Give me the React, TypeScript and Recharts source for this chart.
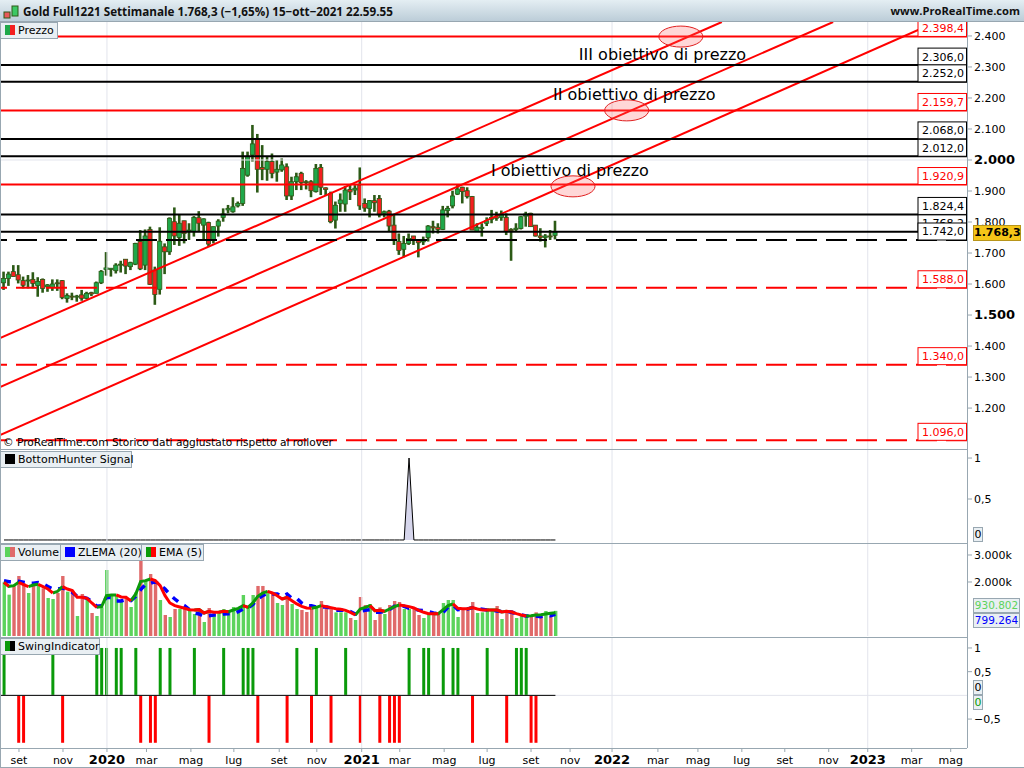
import React from 'react'
import { ComposedChart, Bar, Line, Area, XAxis, YAxis, Cell, ReferenceLine, ReferenceDot } from 'recharts'

// week index, 0 = first candle of the series (aug 2019)
const highs = [1640,1640,1661,1661,1624,1629,1638,1622,1618,1600,1615,1615,1613,1570,1572,1565,1581,1575,1575,1608,1645,1703,1651,1667,1675,1680,1672,1733,1774,1776,1785,1656,1783,1731,1815,1847,1823,1804,1796,1819,1835,1812,1801,1785,1809,1844,1855,1880,1866,2027,2027,2113,2084,2048,2011,2021,2000,2005,1989,1946,1959,1962,1935,1935,1987,1987,1912,1898,1866,1892,1916,1919,1919,1976,1876,1871,1887,1887,1837,1839,1823,1763,1755,1763,1755,1742,1753,1790,1804,1796,1852,1852,1901,1919,1914,1912,1884,1796,1796,1815,1839,1833,1837,1828,1780,1796,1819,1833,1830,1790,1780,1761,1774,1804]
const lows = [1581,1594,1624,1602,1586,1586,1586,1559,1572,1575,1578,1578,1551,1540,1548,1543,1546,1551,1561,1570,1600,1627,1624,1634,1637,1632,1645,1661,1645,1645,1597,1533,1566,1632,1694,1726,1723,1731,1742,1753,1769,1740,1720,1731,1753,1801,1828,1830,1847,1852,1946,1995,1895,1935,1933,1941,1930,1962,1871,1871,1903,1903,1905,1880,1895,1887,1884,1796,1779,1833,1833,1871,1887,1839,1833,1815,1833,1815,1815,1769,1726,1694,1686,1726,1726,1686,1726,1737,1763,1763,1774,1815,1844,1887,1860,1876,1774,1769,1753,1787,1796,1804,1804,1758,1675,1769,1776,1785,1785,1753,1737,1718,1742,1744]
const opens = [1604,1618,1640,1630,1611,1610,1615,1595,1615,1591,1589,1604,1611,1553,1561,1559,1565,1554,1572,1570,1604,1647,1647,1643,1661,1680,1656,1664,1737,1661,1776,1645,1583,1720,1704,1801,1750,1804,1771,1769,1814,1790,1798,1742,1787,1815,1839,1833,1852,1860,1951,2016,2067,1976,1970,1995,1961,1968,1978,1884,1930,1957,1930,1930,1898,1976,1910,1892,1806,1860,1858,1905,1903,1919,1860,1844,1869,1876,1828,1835,1790,1737,1712,1731,1755,1740,1736,1750,1785,1783,1776,1837,1852,1890,1912,1901,1882,1770,1779,1796,1809,1817,1815,1815,1776,1776,1779,1819,1828,1790,1755,1750,1755,1757]
const closes = [1618,1632,1624,1613,1596,1613,1602,1608,1586,1597,1600,1602,1557,1563,1558,1561,1554,1570,1568,1604,1641,1652,1651,1661,1664,1658,1669,1731,1649,1755,1599,1566,1738,1704,1812,1755,1796,1763,1774,1815,1796,1810,1729,1785,1803,1826,1844,1849,1860,1973,2011,2052,1970,1970,1995,1957,1970,1984,1884,1930,1946,1927,1927,1901,1973,1912,1905,1801,1854,1871,1903,1897,1909,1852,1845,1869,1862,1823,1833,1787,1744,1708,1731,1747,1742,1733,1744,1787,1781,1776,1839,1844,1884,1906,1898,1882,1774,1783,1783,1804,1815,1812,1823,1769,1772,1780,1817,1826,1785,1755,1750,1755,1753,1768]

const volumes = [1988,1531,1865,2223,1964,1593,1865,1865,1766,1408,1371,1593,2223,1643,1680,741,1556,1371,852,741,1062,2445,1494,1494,1272,1433,1074,1618,2816,2050,2297,1927,1334,778,704,1000,1000,1062,939,815,939,519,1037,815,852,1000,939,1074,1000,1519,1062,1519,1853,1853,1680,1618,1223,1149,1500,1186,1000,963,889,1000,1062,1297,1124,1062,877,877,877,667,593,1445,1149,1186,593,1062,815,1149,1297,1260,1000,1000,1025,778,667,815,815,815,1223,1334,1334,704,1000,1000,1260,852,877,1025,939,1112,630,852,963,667,753,753,778,877,778,926,729,931]
const ema5 = [1988,1840,1865,1988,1902,1828,1890,1914,1828,1741,1593,1655,1828,1741,1680,1433,1433,1396,1223,1062,1087,1494,1519,1519,1445,1433,1297,1556,2013,2050,2112,2050,1865,1494,1223,1124,1074,1025,976,963,976,852,914,877,877,914,902,963,1025,1124,1062,1223,1470,1593,1655,1593,1494,1371,1433,1309,1186,1099,1037,1025,1062,1124,1087,1050,1013,988,951,877,778,1000,1062,1124,939,951,914,1000,1087,1149,1124,1087,1037,951,877,827,827,827,976,1124,1186,1025,1013,1013,1050,1000,963,963,963,963,889,914,889,827,778,741,753,778,790,815,840,864]
const zlema20 = [2050,2013,2013,2025,1988,1951,1951,1976,1927,1828,1741,1741,1778,1717,1618,1470,1445,1396,1284,1099,1124,1433,1420,1297,1297,1346,1309,1470,1717,1902,1951,2013,1890,1741,1531,1371,1223,1124,976,852,815,729,753,778,778,815,827,827,902,1000,1037,1173,1371,1494,1581,1556,1556,1470,1556,1396,1396,1223,1124,1124,1074,1074,1074,1037,951,951,963,902,815,914,951,976,877,877,914,976,1099,1112,1099,1025,1013,951,939,902,852,827,877,1074,1149,976,988,1000,1050,1013,988,963,951,926,902,914,877,827,778,741,741,741,716,753,753,799]

const bottomHunterWeeks = [83]
const swingUpWeeks = [0,10,19,20,21,23,24,27,32,34,39,45,49,50,51,60,64,70,83,86,87,90,92,93,99,105,106,107]
const swingDownWeeks = [3,4,12,28,30,31,42,52,58,63,67,73,77,79,80,81,96,103,108,109]

const priceTicks = [1200,1300,1400,1500,1600,1700,1800,1900,2000,2100,2200,2300,2400]
const boldPrices = [1500,2000]
const timeTicks = [3.07,12.09,21.1,29.2,38.3,47.1,56.4,64.1,73.3,81.1,90.2,99,108,116,124.6,134,142.2,151.2,160,169,177,186,194]
const timeLabels = ['set','nov','2020','mar','mag','lug','set','nov','2021','mar','mag','lug','set','nov','2022','mar','mag','lug','set','nov','2023','mar','mag']
const yearWeeks = [21.1,73.3,124.6,177]

const redLevels = [2398.4,2159.7,1920.9]
const blackLevels = [2306,2252,2068,2012,1824.4,1768.2]
const blackDashed = [1742]
const redDashed = [1588,1340,1096]

// channel lines, [week, price] at both ends
const channels = [
  [[-0.82,1426],[147.1,2445]],
  [[-0.82,1268],[169.9,2445]],
  [[-0.82,1113],[191,2445]],
]
const targets = [
  { week: 138.7, price: 2398, text: 'III obiettivo di prezzo', textWeek: 117.8, textPrice: 2323 },
  { week: 127.6, price: 2160, text: 'II obiettivo di prezzo', textWeek: 112.5, textPrice: 2194 },
  { week: 116.6, price: 1915, text: 'I obiettivo di prezzo', textWeek: 99.8, textPrice: 1948 },
]

const FONT = '"DejaVu Sans", sans-serif'
const TITLE_FONT = '"Open Sans", sans-serif'
const UP = '#1fa84a'
const DOWN = '#f41f1f'
const WICK = '#2c5a16'
const AXIS = '#98a7b1'
const GRID = '#e2e4ec'
const X_DOMAIN = [-0.82, 197.34]
const LAST_WEEK = opens.length - 1

const rows = opens.map((open, week) => {
  const rising = (arr: number[]) => arr[week] >= (arr[week - 1] ?? arr[week]) || (arr[week + 1] ?? 0) > arr[week]
  return {
    week,
    open,
    close: closes[week],
    high: highs[week],
    low: lows[week],
    range: [lows[week], highs[week]],
    volume: volumes[week],
    emaUp: rising(ema5) ? ema5[week] : null,
    emaDown: ema5[week] <= (ema5[week - 1] ?? ema5[week]) || (ema5[week + 1] ?? 0) < ema5[week] ? ema5[week] : null,
    zlema: zlema20[week],
    hunter: bottomHunterWeeks.includes(week) ? 1 : 0,
    swing: swingUpWeeks.includes(week) ? 1 : swingDownWeeks.includes(week) ? -1 : 0,
  }
})

const Candle = (props: any) => {
  const { x, y, width, height, payload } = props
  const perUnit = height / (payload.high - payload.low)
  const top = y + (payload.high - Math.max(payload.open, payload.close)) * perUnit
  const bodyH = Math.max(Math.abs(payload.open - payload.close) * perUnit, 1)
  const mid = x + width / 2
  return (
    <g>
      <rect x={mid - 1.3} y={y} width={2.6} height={height} fill={WICK} />
      <rect x={mid - 2.1} y={top} width={4.2} height={bodyH} fill={payload.close >= payload.open ? UP : DOWN} stroke={WICK} strokeWidth={0.8} />
    </g>
  )
}

const priceLabel = (value: number) => {
  const [whole, dec] = value.toFixed(1).split('.')
  return `${whole[0]}.${whole.slice(1)},${dec}`
}

// little boxed value sitting on top of its level line, right side of the plot
const levelTag = (value: number, color: string) => (props: any) => {
  const { viewBox } = props
  const right = viewBox.x + viewBox.width
  return (
    <g>
      <rect x={right - 49} y={viewBox.y - 17} width={48.5} height={17} fill="#fff" stroke={color} strokeWidth={1} />
      <text x={right - 45} y={viewBox.y - 4.5} fontSize={11} fontFamily={FONT} fill={color}>{priceLabel(value)}</text>
    </g>
  )
}

const PriceTick = (props: any) => {
  const { x, y, payload } = props
  const v = payload.value
  const bold = boldPrices.includes(v)
  return (
    <text x={x} y={y + 4} fontSize={bold ? 13 : 11} fontWeight={bold ? 700 : 400} fontFamily={FONT} fill="#000">
      {`${String(v)[0]}.${String(v).slice(1)}`}
    </text>
  )
}

const PlainTick = (props: any) => {
  const { x, y, payload, format } = props
  return <text x={x} y={y + 4} fontSize={11} fontFamily={FONT} fill="#000">{format(payload.value)}</text>
}

const TimeTick = (props: any) => {
  const { x, y, index } = props
  const label = timeLabels[index]
  const year = label.startsWith('20')
  return (
    <text x={x} y={y + 10} textAnchor="middle" fontSize={year ? 13 : 11} fontWeight={year ? 700 : 400} fontFamily={FONT} fill="#000">
      {label}
    </text>
  )
}

const yearLines = () =>
  yearWeeks.map((w) => <ReferenceLine key={`y${w}`} x={w} stroke={GRID} strokeWidth={1} />)

const Panel = ({ top, height, children }: { top: number; height: number; children: React.ReactNode }) => (
  <div style={{ position: 'absolute', left: 0, top, width: 1024, height }}>
    <ComposedChart width={1024} height={height} data={rows} margin={{ top: 0, right: 0, bottom: 0, left: 0 }}>
      {children}
    </ComposedChart>
  </div>
)

const Tag = ({ left, top, width, height = 17, children, style }: any) => (
  <div
    style={{
      position: 'absolute', left, top, width, height, boxSizing: 'border-box',
      border: `1px solid ${AXIS}`, background: '#e9eff3', fontFamily: FONT, fontSize: 11,
      lineHeight: `${height - 2}px`, color: '#000', whiteSpace: 'nowrap', ...style,
    }}
  >
    {children}
  </div>
)

const Swatch = ({ a, b }: { a: string; b: string }) => (
  <span style={{ display: 'inline-block', width: 10, height: 10, margin: '0 3px 0 4px', verticalAlign: -1, background: `linear-gradient(90deg, ${a} 50%, ${b} 50%)` }} />
)

const Rule = ({ left, top, width, height }: any) => (
  <div style={{ position: 'absolute', left, top, width, height, background: AXIS }} />
)

export default function App() {
  return (
    <div style={{ position: 'fixed', left: 0, top: 0, width: 1024, height: 768, background: '#fff', overflow: 'hidden' }}>
      {/* barra titolo */}
      <div style={{ position: 'absolute', left: 0, top: 0, width: 1024, height: 22, boxSizing: 'border-box', borderBottom: `1px solid ${AXIS}`, background: 'linear-gradient(#e4eef3, #bccdd8)', fontFamily: TITLE_FONT, fontSize: 11.7, fontWeight: 700, lineHeight: '22px', color: '#111', whiteSpace: 'nowrap' }}>
        <svg width={18} height={20} style={{ position: 'absolute', left: 2, top: 1 }}>
          <rect x={2} y={11} width={6} height={6} fill="#e85a5a" stroke={WICK} />
          <rect x={10} y={5} width={6} height={10} fill="#3cc864" stroke={WICK} />
        </svg>
        <span style={{ position: 'absolute', left: 23 }}>Gold Full1221 Settimanale 1.768,3 (−1,65%) 15−ott−2021 22.59.55</span>
        <span style={{ position: 'absolute', right: 4, fontSize: 11.2 }}>www.ProRealTime.com</span>
      </div>

      <Panel top={22} height={427}>
        <XAxis dataKey="week" type="number" domain={X_DOMAIN} hide allowDataOverflow />
        <YAxis orientation="right" width={57} domain={[1068, 2445]} ticks={priceTicks} tick={PriceTick} tickSize={5} tickMargin={2} interval={0} axisLine={false} tickLine={{ stroke: AXIS }} allowDataOverflow />
        {yearLines()}
        <ReferenceLine y={2000} stroke={GRID} />
        <Bar dataKey="range" barSize={4} shape={Candle} isAnimationActive={false} />
        {channels.map((c, i) => (
          <ReferenceLine key={`c${i}`} segment={[{ x: c[0][0], y: c[0][1] }, { x: c[1][0], y: c[1][1] }]} stroke="#ff0000" strokeWidth={2} />
        ))}
        {blackLevels.map((v) => <ReferenceLine key={v} y={v} stroke="#000" strokeWidth={2} label={levelTag(v, '#000')} />)}
        {blackDashed.map((v) => <ReferenceLine key={v} y={v} stroke="#000" strokeWidth={2} strokeDasharray="21 9" label={levelTag(v, '#000')} />)}
        {redLevels.map((v) => <ReferenceLine key={v} y={v} stroke="#ff0000" strokeWidth={2} label={levelTag(v, '#ff0000')} />)}
        {redDashed.map((v) => <ReferenceLine key={v} y={v} stroke="#ff0000" strokeWidth={2} strokeDasharray="21 9" label={levelTag(v, '#ff0000')} />)}
        {targets.map((t) => (
          <ReferenceDot key={t.text} x={t.week} y={t.price} r={1} shape={(p: any) => (
            <ellipse cx={p.cx} cy={p.cy} rx={22} ry={10.5} fill="#ff6060" fillOpacity={0.25} stroke="#e02020" strokeWidth={1} />
          )} />
        ))}
        {targets.map((t) => (
          <ReferenceDot key={`t${t.text}`} x={t.textWeek} y={t.textPrice} r={1} shape={(p: any) => (
            <text x={p.cx} y={p.cy} fontSize={16} fontFamily={FONT} fill="#000">{t.text}</text>
          )} />
        ))}
      </Panel>

      <Panel top={450} height={94}>
        <XAxis dataKey="week" type="number" domain={X_DOMAIN} hide allowDataOverflow />
        <YAxis orientation="right" width={57} domain={[-0.049, 1.098]} ticks={[0.5, 1]} tick={<PlainTick format={(v: number) => String(v).replace('.', ',')} />} tickSize={5} tickMargin={2} interval={0} axisLine={false} tickLine={{ stroke: AXIS }} allowDataOverflow />
        {yearLines()}
        <Area dataKey="hunter" type="linear" stroke="#000" strokeWidth={1} fill="#d6d6ec" fillOpacity={1} dot={false} isAnimationActive={false} />
      </Panel>

      <Panel top={544} height={92}>
        <XAxis dataKey="week" type="number" domain={X_DOMAIN} hide allowDataOverflow />
        <YAxis orientation="right" width={57} domain={[0, 3407]} ticks={[2000, 3000]} tick={<PlainTick format={(v: number) => `${v / 1000}.000k`} />} tickSize={5} tickMargin={2} interval={0} axisLine={false} tickLine={{ stroke: AXIS }} allowDataOverflow />
        {yearLines()}
        <Bar dataKey="volume" barSize={3.4} isAnimationActive={false}>
          {rows.map((r) => <Cell key={r.week} fill={r.close >= r.open ? '#5cd35c' : '#e06a6a'} />)}
        </Bar>
        <Line dataKey="zlema" stroke="#0000ff" strokeWidth={3.5} strokeDasharray="7 7" dot={false} isAnimationActive={false} />
        <Line dataKey="emaUp" stroke="#0a9a0a" strokeWidth={3} dot={false} isAnimationActive={false} />
        <Line dataKey="emaDown" stroke="#ff0000" strokeWidth={3} dot={false} isAnimationActive={false} />
      </Panel>

      <Panel top={638} height={130}>
        <XAxis dataKey="week" type="number" domain={X_DOMAIN} ticks={timeTicks} interval={0} height={20} tick={TimeTick} tickSize={4} axisLine={false} tickLine={{ stroke: AXIS }} allowDataOverflow />
        <YAxis orientation="right" width={57} domain={[-1.11, 1.21]} ticks={[-0.5, 0.5, 1]} tick={<PlainTick format={(v: number) => String(v).replace('.', ',').replace('-', '−')} />} tickSize={5} tickMargin={2} interval={0} axisLine={false} tickLine={{ stroke: AXIS }} allowDataOverflow />
        {yearLines()}
        <ReferenceLine y={0} stroke={GRID} />
        <Bar dataKey="swing" barSize={3} isAnimationActive={false}>
          {rows.map((r) => <Cell key={r.week} fill={r.swing > 0 ? '#0a9a0a' : '#ff0000'} />)}
        </Bar>
        <ReferenceLine segment={[{ x: X_DOMAIN[0], y: 0 }, { x: LAST_WEEK, y: 0 }]} stroke="#000" strokeWidth={1} />
      </Panel>

      {/* bordi dei pannelli */}
      <Rule left={967} top={22} width={1} height={726} />
      <Rule left={0} top={449} width={967} height={1} />
      <Rule left={0} top={543} width={967} height={1} />
      <Rule left={0} top={637} width={967} height={1} />
      <Rule left={0} top={748} width={967} height={1} />
      <Rule left={0} top={767} width={1024} height={1} />
      <Rule left={0} top={22} width={1} height={746} />

      {/* legende */}
      <Tag left={0} top={22} width={58}><Swatch a="#1fa84a" b="#f41f1f" />Prezzo</Tag>
      <Tag left={0} top={451} width={132}><Swatch a="#000" b="#000" />BottomHunter Signal</Tag>
      <Tag left={0} top={544} width={61}><Swatch a="#5cd35c" b="#e06a6a" />Volume</Tag>
      <Tag left={60} top={544} width={82}><Swatch a="#0000ff" b="#0000ff" />ZLEMA (20)</Tag>
      <Tag left={141} top={544} width={63}><Swatch a="#0a9a0a" b="#ff0000" />EMA (5)</Tag>
      <Tag left={0} top={638} width={100}><Swatch a="#0a9a0a" b="#000" />SwingIndicator</Tag>

      <div style={{ position: 'absolute', left: 3, top: 436, fontFamily: FONT, fontSize: 10.6, color: '#000', whiteSpace: 'nowrap' }}>
        © ProRealTime.com  Storico dati aggiustato rispetto al rollover
      </div>

      {/* valori correnti sull'asse */}
      <Tag left={973} top={225} width={48} height={16} style={{ background: '#f5c518', borderColor: '#b8951a', fontWeight: 700, fontSize: 11, textAlign: 'center' }}>1.768,3</Tag>
      <Tag left={973} top={527} width={10} height={15} style={{ textAlign: 'center' }}>0</Tag>
      <Tag left={973} top={598} width={47} height={15} style={{ color: '#5cd35c', textAlign: 'center', fontSize: 10.5 }}>930.802</Tag>
      <Tag left={973} top={613} width={47} height={15} style={{ color: '#0000ff', textAlign: 'center', fontSize: 10.5 }}>799.264</Tag>
      <Tag left={973} top={680} width={10} height={15} style={{ textAlign: 'center' }}>0</Tag>
      <Tag left={973} top={695} width={10} height={15} style={{ color: '#0a9a0a', textAlign: 'center' }}>0</Tag>
    </div>
  )
}
